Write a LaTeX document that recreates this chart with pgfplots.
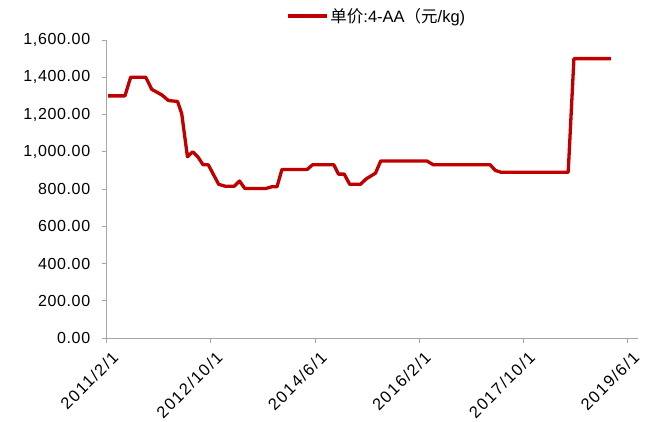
\documentclass[border=0pt]{standalone}
\usepackage{pgfplots}
\pgfplotsset{compat=1.18}
\usepackage{fontspec}
\setmainfont{Liberation Sans}
\newfontfamily\ytickfont[LetterSpace=4]{Liberation Sans}
\newfontfamily\xtickfont[LetterSpace=9]{Liberation Sans}
\newfontfamily\cjk{Noto Sans CJK SC}
\definecolor{serred}{HTML}{C00000}
\definecolor{axgray}{HTML}{A6A6A6}
\begin{document}
\begin{tikzpicture}
\useasboundingbox (0,0) rectangle (646pt,421pt);
\begin{axis}[
  at={(106.7pt,83pt)}, anchor=south west,
  scale only axis, width=531.3pt, height=298pt,
  xmin=0, xmax=102, ymin=0, ymax=1600,
  axis lines*=left,
  axis line style={draw=axgray, line width=0.9pt, -},
  tick style={draw=axgray, line width=0.9pt},
  tick align=outside, major tick length=5pt,
  xtick={0,20,40,60,80,100},
  xticklabels={2011/2/1,2012/10/1,2014/6/1,2016/2/1,2017/10/1,2019/6/1},
  ytick={0,200,...,1600},
  /pgf/number format/fixed,
  /pgf/number format/fixed zerofill,
  /pgf/number format/precision=2,
  /pgf/number format/1000 sep={,},
  /pgf/number format/assume math mode=true,
  yticklabel style={font=\ytickfont\fontsize{16}{18}\selectfont, xshift=-8pt},
  xticklabel style={font=\xtickfont\fontsize{16.5}{18}\selectfont, rotate=45, anchor=north east, inner sep=1pt, yshift=-7pt, xshift=-1pt},
  legend style={at={(axis description cs:0.508,1.0805)}, anchor=center, draw=none, fill=none, font=\fontsize{16.5}{18}\selectfont, inner sep=0pt},
  legend image code/.code={\draw[#1, line width=3.5pt] (0pt,0pt) -- (39pt,0pt);},
  clip=false,
]
\addplot[serred, line width=3.3pt, line join=round] coordinates {
(0.25,1300) (3.5,1300) (4.6,1400) (7.5,1400) (8.65,1335) (10.6,1305)
(11.85,1275) (13.6,1270) (14.4,1205) (15.5,973) (16.5,1000) (17.5,973)
(18.5,930) (19.5,930) (21.5,825) (22.75,815) (24.5,815) (25.5,843)
(26.5,803) (30.6,803) (31.7,812) (32.7,812) (33.65,905) (38.5,905)
(39.5,930) (43.6,930) (44.5,880) (45.6,880) (46.65,825) (48.7,825)
(49.85,855) (51.6,885) (52.6,950) (61.5,950) (62.7,930) (73.6,930)
(74.6,900) (75.7,890) (88.6,890) (89.7,1500) (96.8,1500)
};
\addlegendentry{{\cjk 单价}:4-AA{\cjk （元}/kg)}
\end{axis}
\end{tikzpicture}
\end{document}
